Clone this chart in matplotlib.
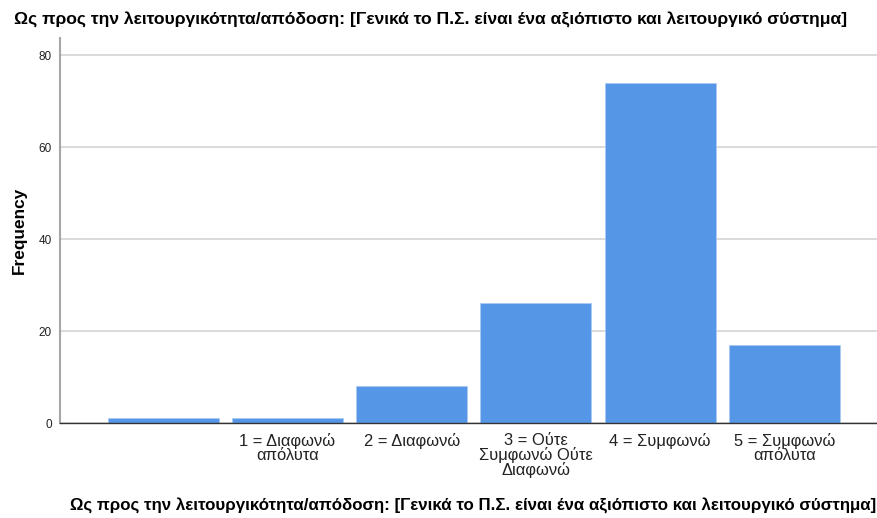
import matplotlib
matplotlib.use("Agg")
import matplotlib.pyplot as plt
import numpy as np

plt.rcParams["font.family"] = ["Liberation Sans", "DejaVu Sans"]

TITLE = "Ως προς την λειτουργικότητα/απόδοση: [Γενικά το Π.Σ. είναι ένα αξιόπιστο και λειτουργικό σύστημα]"
categories = ["", "1 = Διαφωνώ\nαπόλυτα", "2 = Διαφωνώ", "3 = Ούτε\nΣυμφωνώ Ούτε\nΔιαφωνώ",
              "4 = Συμφωνώ", "5 = Συμφωνώ\nαπόλυτα"]
counts = [1, 1, 8, 26, 74, 17]
yticks = [0, 20, 40, 60, 80]

fig = plt.figure(figsize=(8.78, 5.18), dpi=100)
# axes position in pixels: left 60, right 877, bottom 423 (from top), top 38
ax = fig.add_axes([60 / 878, 1 - 423 / 518, (877 - 60) / 878, (423 - 38) / 518])

x = np.arange(len(categories))
ax.bar(x, counts, width=0.894, color="#5596e6", edgecolor="#a9c9f2", linewidth=0.6, zorder=3)

ax.set_xlim(-0.83, 5.745)
ax.set_ylim(0, 83.7)
ax.set_yticks(yticks)
ax.set_xticks(x)
ax.set_xticklabels(categories, fontsize=11.9, linespacing=0.95)
ax.tick_params(axis="x", length=0, pad=7, colors="#222222")
ax.tick_params(axis="y", length=0, pad=6, labelsize=8.5, colors="#222222")
ax.grid(axis="y", color="#d4d4d4", linewidth=1.2, zorder=0)

for s in ["top", "right"]:
    ax.spines[s].set_visible(False)
ax.spines["left"].set_color("#a6a6a6")
ax.spines["left"].set_linewidth(1.5)
ax.spines["bottom"].set_color("#333333")
ax.spines["bottom"].set_linewidth(1.0)
ax.spines["bottom"].set_zorder(4)

ax.set_ylabel("Frequency", fontsize=12.4, fontweight="bold", labelpad=8)
fig.text(14 / 878, 1 - 20 / 518, TITLE, fontsize=12.6, fontweight="bold", va="center", ha="left")
fig.text(876 / 878, 1 - 506 / 518, TITLE, fontsize=12.2, fontweight="bold", va="center", ha="right")

fig.savefig("out.png", dpi=100)
